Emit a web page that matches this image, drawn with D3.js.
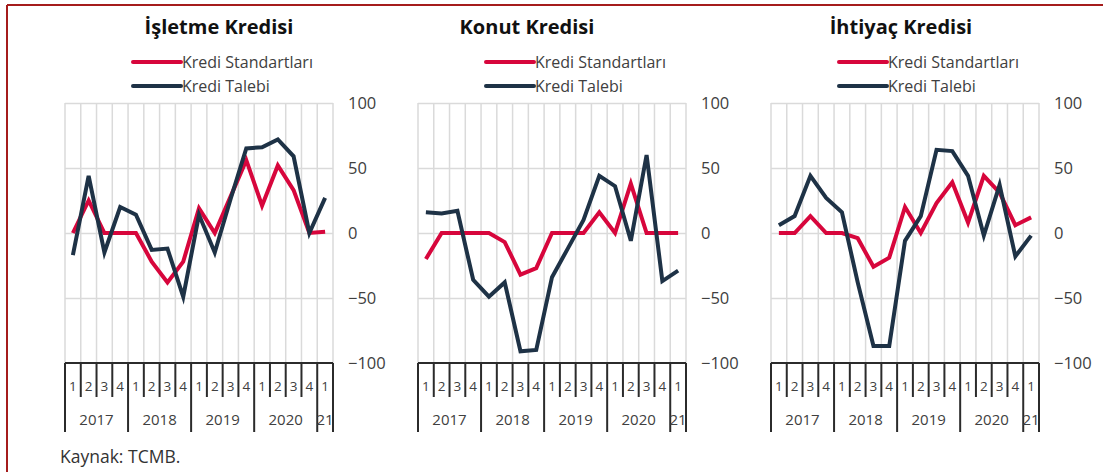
<!DOCTYPE html>
<html>
<head>
<meta charset="utf-8">
<script src="https://cdn.jsdelivr.net/npm/d3@7"></script>
<style>
  body { margin: 0; background: #fff; }
  svg { font-family: "Open Sans", sans-serif; }
</style>
</head>
<body>
<div id="chart"></div>
<script>
// quarters 2017Q1 .. 2021Q1
const quarters = ["2017Q1","2017Q2","2017Q3","2017Q4","2018Q1","2018Q2","2018Q3","2018Q4",
  "2019Q1","2019Q2","2019Q3","2019Q4","2020Q1","2020Q2","2020Q3","2020Q4","2021Q1"];
const quarterLabels = ["1","2","3","4","1","2","3","4","1","2","3","4","1","2","3","4","1"];
const yearLabels = ["2017","2018","2019","2020","21"];
const yearQuarters = [4, 4, 4, 4, 1];
const yTicks = [100, 50, 0, -50, -100];
const seriesNames = ["Kredi Standartları", "Kredi Talebi"];
const titles = ["İşletme Kredisi", "Konut Kredisi", "İhtiyaç Kredisi"];

const isletmeStandart = [0, 25, 0, 0, 0, -22, -38, -22, 19, 0, 28, 56, 21, 52, 33, 0, 1];
const isletmeTalep = [-17, 44, -15, 20, 14, -13, -12, -49, 14, -15, 26, 65, 66, 72, 59, 0, 27];
const konutStandart = [-20, 0, 0, 0, 0, -7, -32, -27, 0, 0, 0, 16, 0, 38, 0, 0, 0];
const konutTalep = [16, 15, 17, -36, -49, -38, -91, -90, -34, -12, 10, 44, 36, -6, 60, -37, -29];
const ihtiyacStandart = [0, 0, 13, 0, 0, -4, -26, -19, 20, 0, 23, 39, 8, 44, 31, 6, 12];
const ihtiyacTalep = [6, 13, 44, 27, 16, -38, -87, -87, -6, 13, 64, 63, 44, -2, 37, -18, -2];

const panels = [
  { title: titles[0], series: [isletmeStandart, isletmeTalep], left: 65, titleX: 219 },
  { title: titles[1], series: [konutStandart, konutTalep], left: 418, titleX: 527 },
  { title: titles[2], series: [ihtiyacStandart, ihtiyacTalep], left: 771, titleX: 901 }
];

const W = 1115, H = 472;
const plotW = 268, plotTop = 103, plotBottom = 363;
const colors = ["#d7063c", "#1e3246"];
const gridColor = "#dadada";
const axisColor = "#2b2b2b";
const textColor = "#404040";

const svg = d3.select("#chart").append("svg")
  .attr("width", W).attr("height", H);

// frame
svg.append("line").attr("x1", 7).attr("x2", 1103).attr("y1", 5).attr("y2", 5)
  .attr("stroke", "#a51c1c").attr("stroke-width", 2);
svg.append("line").attr("x1", 7).attr("x2", 7).attr("y1", 5).attr("y2", H)
  .attr("stroke", "#a51c1c").attr("stroke-width", 2);

const y = d3.scaleLinear().domain([-100, 100]).range([plotBottom, plotTop]);

panels.forEach(p => {
  const x = d3.scaleBand().domain(quarters).range([0, plotW]).padding(0);
  const g = svg.append("g").attr("transform", `translate(${p.left},0)`);

  // title
  svg.append("text")
    .attr("x", p.titleX).attr("y", 34)
    .attr("text-anchor", "middle")
    .attr("font-size", 20).attr("font-weight", 700)
    .attr("fill", "#111")
    .text(p.title);

  // legend
  seriesNames.forEach((name, i) => {
    const ly = 62 + i * 24;
    g.append("line")
      .attr("x1", 68).attr("x2", 116).attr("y1", ly).attr("y2", ly)
      .attr("stroke", colors[i]).attr("stroke-width", 4)
      .attr("stroke-linecap", "round");
    g.append("text")
      .attr("x", 117).attr("y", ly + 5.5)
      .attr("font-size", 16).attr("fill", textColor)
      .text(name);
  });

  // vertical grid
  const bounds = quarters.map(q => x(q)).concat([plotW]);
  g.selectAll(".vgrid").data(bounds).enter().append("line")
    .attr("x1", d => d).attr("x2", d => d)
    .attr("y1", plotTop).attr("y2", plotBottom)
    .attr("stroke", gridColor).attr("stroke-width", 1.5);

  // horizontal grid + right axis labels
  const yAxis = d3.axisRight(y).tickValues(yTicks).tickSize(plotW).tickPadding(0);
  const ya = g.append("g").call(yAxis);
  ya.select(".domain").remove();
  ya.selectAll(".tick line").attr("stroke", d => d === -100 ? "none" : gridColor)
    .attr("stroke-width", 1.5);
  ya.selectAll(".tick text")
    .attr("x", plotW + 15)
    .attr("font-size", 16.5).attr("fill", textColor)
    .attr("font-family", "Open Sans, sans-serif");

  // data lines
  const line = d3.line()
    .x((d, i) => x(quarters[i]) + x.bandwidth() / 2)
    .y(d => y(d));
  p.series.forEach((vals, i) => {
    g.append("path").datum(vals)
      .attr("d", line)
      .attr("fill", "none")
      .attr("stroke", colors[i]).attr("stroke-width", 4)
      .attr("stroke-linejoin", "miter");
  });

  // bottom axis line
  g.append("line").attr("x1", 0).attr("x2", plotW).attr("y1", plotBottom).attr("y2", plotBottom)
    .attr("stroke", axisColor).attr("stroke-width", 2);

  // quarter ticks
  const yearStarts = [];
  let acc = 0;
  yearQuarters.forEach(n => { yearStarts.push(acc); acc += n; });
  yearStarts.push(acc);
  bounds.forEach((b, i) => {
    const isYear = yearStarts.includes(i);
    g.append("line")
      .attr("x1", b).attr("x2", b)
      .attr("y1", plotBottom).attr("y2", isYear ? 432 : 397)
      .attr("stroke", axisColor).attr("stroke-width", 2);
  });
  g.selectAll(".qlab").data(quarterLabels).enter().append("text")
    .attr("x", (d, i) => x(quarters[i]) + x.bandwidth() / 2)
    .attr("y", 391)
    .attr("text-anchor", "middle")
    .attr("font-size", 13.5).attr("fill", textColor)
    .text(d => d);

  // year labels
  yearLabels.forEach((lab, i) => {
    const x0 = bounds[yearStarts[i]], x1 = bounds[yearStarts[i + 1]];
    g.append("text")
      .attr("x", (x0 + x1) / 2).attr("y", 425)
      .attr("text-anchor", "middle")
      .attr("font-size", 15).attr("fill", textColor)
      .text(lab);
  });
});

svg.append("text")
  .attr("x", 60).attr("y", 463)
  .attr("font-size", 17.5).attr("fill", "#333")
  .text("Kaynak: TCMB.");
</script>
</body>
</html>
